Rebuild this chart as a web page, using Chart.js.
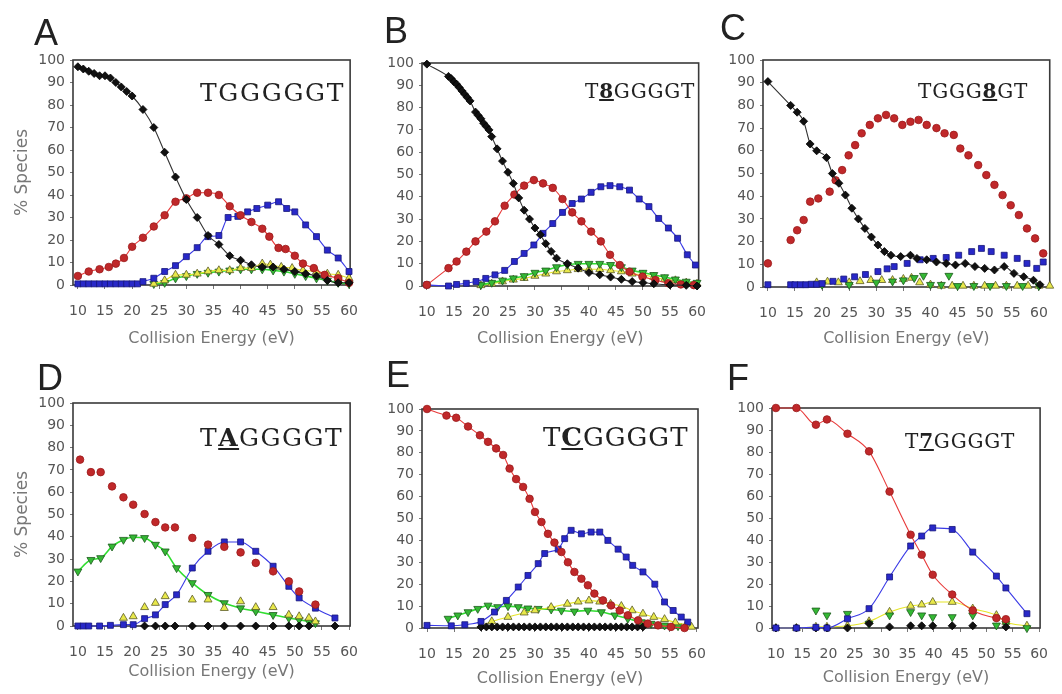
<!DOCTYPE html>
<html>
<head>
<meta charset="utf-8">
<script src="https://cdn.jsdelivr.net/npm/chart.js@4.4.1/dist/chart.umd.min.js"></script>
<style>
  body { margin: 0; background: #fff; }
  #page { position: relative; width: 1062px; height: 694px; overflow: hidden; }
  canvas { position: absolute; }
  .letter { position: absolute; font-family: "Liberation Sans", Arial, sans-serif; font-size: 36px; line-height: 1; color: #222; }
  .seq { position: absolute; font-family: "DejaVu Serif", serif; line-height: 1; color: #222; white-space: nowrap; }
  .seq b { text-decoration: underline; }
</style>
</head>
<body>
<div id="page">
  <canvas id="cA" width="372" height="310" style="left:0;top:40px"></canvas>
  <canvas id="cB" width="348" height="310" style="left:372px;top:40px"></canvas>
  <canvas id="cC" width="342" height="310" style="left:720px;top:40px"></canvas>
  <canvas id="cD" width="372" height="309" style="left:0;top:385px"></canvas>
  <canvas id="cE" width="348" height="309" style="left:372px;top:385px"></canvas>
  <canvas id="cF" width="342" height="309" style="left:720px;top:385px"></canvas>

  <div class="letter" style="left:34px;top:15px">A</div>
  <div class="letter" style="left:384px;top:13px">B</div>
  <div class="letter" style="left:720px;top:10px">C</div>
  <div class="letter" style="left:37px;top:360px">D</div>
  <div class="letter" style="left:386px;top:357px">E</div>
  <div class="letter" style="left:727px;top:360px">F</div>

  <div class="seq" style="left:200px;top:80px;font-size:25px;letter-spacing:1.7px">TGGGGGT</div>
  <div class="seq" style="left:585px;top:81px;font-size:20px;letter-spacing:0.8px">T<b>8</b>GGGGT</div>
  <div class="seq" style="left:918px;top:81px;font-size:20px;letter-spacing:0.8px">TGGG<b>8</b>GT</div>
  <div class="seq" style="left:200px;top:425px;font-size:25px;letter-spacing:1.5px">T<b>A</b>GGGGT</div>
  <div class="seq" style="left:543px;top:424px;font-size:26px;letter-spacing:1px">T<b>C</b>GGGGT</div>
  <div class="seq" style="left:905px;top:431px;font-size:20px;letter-spacing:0.8px">T<b>7</b>GGGGT</div>
</div>
<script>
// tick labels
const xTicks = [10, 15, 20, 25, 30, 35, 40, 45, 50, 55, 60];
const yTicks = [0, 10, 20, 30, 40, 50, 60, 70, 80, 90, 100];

// A  TGGGGGT
const aBlackX = [10,11,12,13,14,15,16,17,18,19,20,22,24,26,28,30,32,34,36,38,40,42,44,46,48,50,52,54,56,58,60];
const aBlackY = [97,96,95,94,93,93,92,90,88,86,84,78,70,59,48,38,30,22,18,13,11,9,8,8,7,6,5,4,2,1,1];
const aRedX = [10,12,14,15.7,17,18.5,20,22,24,26,28,30,32,34,36,38,40,42,44,45.3,47,48.3,50,51.5,53.5,55.5,58,60];
const aRedY = [4,6,7,8,9.5,12,17,21,26,31,37,38.5,41,41,40,35,31,28,25,21.5,16.5,16,13,9.5,7.5,4.5,3,1];
const aBlueX = [10,11,12,13,14,15,16,17,18,19,20,21,22,24,26,28,30,32,34,36,37.7,39.5,41.3,43,45,47,48.5,50,52,54,56,58,60];
const aBlueY = [0.5,0.5,0.5,0.5,0.5,0.5,0.5,0.5,0.5,0.5,0.5,0.5,1.5,3,6,8.6,12.6,16.6,21.5,22,30,30.5,32.5,34,35.5,37,34,32.5,26.7,21.5,15.5,12,6];
const aGreenX = [24,26,28,30,32,34,36,38,40,42,44,46,48,50,52,54,56,58,60];
const aGreenY = [0.5,1,3,4,5,5.5,6,6.5,7,7,7,6.5,6,5,4,3,2,1,0.5];
const aYellowX = [24,26,28,30,32,34,36,38,40,42,44,45.5,47.5,49.5,51.5,54,56,58,60];
const aYellowY = [0.5,2,4.5,4.5,5,6,6.5,6.5,7.5,7.5,9.5,9,8,7.5,6.5,6,5,4.5,3];

// B  T8GGGGT
const bBlackX = [10,14,14.5,15,15.5,16,16.5,17,17.5,18,19,19.5,20,20.5,21,21.5,22,23,24,25,26,27,28,29,30,31,32,33,34,36,38,40,42,44,46,48,50,52,55,58,60];
const bBlackY = [99.5,94,93,91.6,90.5,89,87.5,86,84.5,83,78,76.5,75,73,71.5,70,67,61.5,56,51,46,39.5,34,30,26,23,19,15.5,12.5,10,8,6,5,4,3,2,1.5,1,0.5,0.3,0];
const bRedX = [10,14,15.5,17.3,19,21,22.6,24.4,26.2,28,29.8,31.5,33.3,35.1,36.9,38.6,40.4,42.2,43.9,45.7,47.5,49.9,52.3,54.7,57,59.4];
const bRedY = [0.5,8,11,15.4,20,24.4,29,36,41,45,47.5,46,44,39,33,29,24.4,20,14,9.4,6.4,4.2,2.7,1.2,0.7,0.4];
const bBlueX = [10,14,15.5,17.3,19.1,20.9,22.6,24.4,26.2,28,29.8,31.5,33.3,35.1,36.9,38.6,40.4,42.2,43.9,45.7,47.5,49.3,51.1,52.9,54.7,56.4,58.2,59.7];
const bBlueY = [0.5,0,0.7,1.2,2,3.4,5,7,11,14.6,18.4,23.6,28,33,37,39,42,44.5,45,44.5,43,39,35.6,30.3,26,21.4,14,9.4];
const bGreenX = [20,22,24,26,28,30,32,34,36,38,40,42,44,46,48,50,52,54,56,58,60];
const bGreenY = [0.5,1.5,2.5,3.5,4.5,6,7,8.5,9.5,10,10,10,9.5,8.5,7,6,5,4,3,2,1.5];
const bYellowX = [20,22,24,26,28,30,32,34,36,38,40,42,44,46,48,50,52,54,56,58,60];
const bYellowY = [0.3,1,2,2.8,3.5,4.5,5.5,6.5,7,7.5,7.5,7.5,7,6.5,5.5,5,4,3,2.5,1.5,1];

// C  TGGG8GT
const cBlackX = [10,14.2,15.4,16.6,17.8,19,20.8,21.9,23.1,24.3,25.5,26.7,27.9,29.1,30.3,31.5,32.7,34.5,36.3,37.5,39.3,41.1,42.9,44.6,46.4,48.2,50,51.8,53.6,55.4,57.2,59,60.2];
const cBlackY = [90.5,80,77,73,63,60,57,50,45.7,40.5,34.7,30,25.8,22,18.5,15.6,14,13.4,14,12.6,12,11,10.4,9.7,10.4,9,8.2,7.5,9,6,4.5,3,1];
const cRedX = [10,14.2,15.4,16.6,17.8,19.3,21.4,22.5,23.7,24.9,26.1,27.3,28.8,30.3,31.8,33.3,34.8,36.3,37.8,39.3,41.1,42.6,44.3,45.5,47,48.8,50.3,51.8,53.3,54.8,56.3,57.8,59.3,60.8];
const cRedY = [10.4,20.7,25,29.5,37.6,39,42,47,51.5,58,62.5,67.7,71.4,74.3,75.8,74.3,71.4,72.8,73.6,71.4,70,67.7,67,61,58,53.7,49.3,45,40.5,36,31.7,25.8,21.4,14.8];
const cBlueX = [10,14.2,15,16,17,18,19,20,22,24,26,28,30.3,32,33.3,35.7,38.1,40.5,42.9,45.2,47.6,49.4,51.2,53.6,56,57.8,59.6,60.8];
const cBlueY = [1,1,1,1,1,1.2,1.2,1.5,2.5,3.5,4.5,5.5,6.8,8,9,10.4,12,12.6,13,14,15.6,17,15.6,14,12.6,10.4,8.2,11];
const cGreenX = [20,25,30,33,35,37,38.7,40,42,43.4,45,48,51,54,57,60];
const cGreenY = [1,1,2,2.5,3,4,5,1,1,5,0.5,0.5,0.5,0.5,0.5,0.5];
const cYellowX = [19,21,23,25,27,29,31,33,35,36.5,38,40,42,44,46,48,50,52,54,56,58,60,62];
const cYellowY = [2,2.3,2,2,2.5,3,3,3,3.5,4,2,1,0.5,0.5,0.5,0.5,0.5,0.5,0.5,0.5,0.5,0.5,0.5];

// D  TAGGGGT
const dRedX = [10.4,12.4,14.2,16.3,18.4,20.2,22.3,24.3,26.1,27.9,31.1,34,37,40,42.8,46,48.9,50.8,53.8];
const dRedY = [74.6,69,69,62.6,57.7,54.4,50.2,46.6,44.2,44.2,39.5,36.5,35.5,33,28.3,24.5,20,15.5,9.6];
const dGreenX = [10,12.4,14.2,16.3,18.4,20.2,22.3,24.3,26.1,28.2,31.1,34,37,40,42.8,46,48.9,50.8,52.6,53.8];
const dGreenY = [24.5,29.7,30.5,35.7,38.7,39.8,39.5,36.5,33.5,26,19.3,14,10.3,8,6.6,5,3.6,2.8,2,1.3];
const dBlueX = [10,11,12,14,16,18.4,20.2,22.3,24.3,26.1,28.2,31.1,34,37,40,42.8,46,48.9,50.8,53.8,57.4];
const dBlueY = [0,0,0,0,0.3,0.6,0.6,3.3,5,9.6,14,26,33.5,37.7,37.7,33.5,26.8,17.8,12.6,8,3.6];
const dYellowX = [18.4,20.2,22.3,24.3,26.1,31.1,34,37,40,42.8,46,48.9,50.8,52.6,53.8];
const dYellowY = [3.6,4.3,8.4,10.3,13.3,11.8,11.8,8,11,8.4,8.4,5,4.3,3.6,2];
const dBlackX = [22.3,24.3,26.1,27.9,31.1,34,37,40,42.8,46,48.9,50.8,52.6,57.4];
const dBlackY = [0,0,0,0,0,0,0,0,0,0,0,0,0,0];

// E  TCGGGGT
const eRedX = [10,13.6,15.4,17.6,19.8,21.3,22.8,24.1,25.3,26.5,27.8,29,30,31.2,32.4,33.6,34.9,36.1,37.3,38.6,39.8,41,42.6,44.1,45.7,47.2,49.1,50.9,52.8,55.2,57.7];
const eRedY = [100,97,96,92,88,85,82,79,72.8,68,64.4,59,53,48.4,43,39,34.7,30,25.6,22.5,19.5,15.7,12.6,10.3,8,5.8,3.5,2,1.2,0.5,0];
const eBlueX = [10,14.5,17,20,22.5,24.7,26.9,28.7,30.6,31.8,34.3,35.5,36.7,38.6,40.4,42,43.5,45.4,46.9,48.1,50,52.2,54,55.6,57.1,58.3];
const eBlueY = [1.2,1,1.5,3,7.3,12.6,18.7,24,29.4,34,36,40.8,44.6,43,43.8,43.8,40,36,32.4,28.6,25.6,20,11.9,8,5,2.7];
const eGreenX = [13.9,15.7,17.6,19.4,21.3,23.1,25,26.9,28.7,30.6,33,34.9,37.3,39.8,42.3,44.8,47.2,49.7,51.5,54,56.5];
const eGreenY = [4.3,5.8,7.3,8.8,10.3,9.6,10,9.6,9,8.8,8.5,8,7.6,8,7.3,5.8,4.3,2.7,2,1.2,0.9];
const eYellowX = [20,22,25,28,30,33,36,38,40,42,44,46,48,50,52,54,56,58,59];
const eYellowY = [1,3,5,7,8,9.5,11,12,12.5,12,11,10,8,6.5,5,4,2.5,1.5,0.5];
const eBlackX = [20,21,22,23,24,25,26,27,28,29,30,31,32,33,34,35,36,37,38,39,40,41,42,43,44,45,46,47,48,49,50];
const eBlackY = [0.5,0.5,0.5,0.5,0.5,0.5,0.5,0.5,0.5,0.5,0.5,0.5,0.5,0.5,0.5,0.5,0.5,0.5,0.5,0.5,0.5,0.5,0.5,0.5,0.5,0.5,0.5,0.5,0.5,0.5,0.5];

// F  T7GGGGT
const fRedX = [10,13.9,17.6,19.7,23.6,27.7,31.6,35.6,37.7,39.8,43.5,47.4,51.9,53.7];
const fRedY = [100,100,92.4,94.8,88.3,80.3,62,42.4,33.3,24.2,15.2,8,4.5,4];
const fBlueX = [10,13.9,17.6,19.7,23.6,27.7,31.6,35.6,37.7,39.8,43.5,47.4,51.9,53.7,57.7];
const fBlueY = [0,0,0.3,0,4.2,8.8,23.2,37.3,41.8,45.5,44.8,34.5,23.6,18.2,6.5];
const fGreenX = [17.6,19.7,23.6,27.7,31.6,35.6,37.7,39.8,43.5,47.4,51.9,53.7,57.7];
const fGreenY = [8,5.8,6.5,2,5.8,7.3,5.8,5,5,5.8,1.2,2,0];
const fYellowX = [10,13.9,17.6,19.7,23.6,27.7,31.6,35.6,37.7,39.8,43.5,47.4,51.9,53.7,57.7];
const fYellowY = [0,0,0.5,0.5,1,3,7.3,10,10.6,11.8,11.8,8.8,5.8,2.7,1];
const fBlackX = [10,13.9,17.6,19.7,23.6,27.7,31.6,35.6,37.7,39.8,43.5,47.4,53.7];
const fBlackY = [0,0,0,0,0,2,0.5,1,1,1,1,1,0.5];

// marker looks
const looks = {
  black:  { pointStyle: 'rectRot',  radius: 4,   fill: '#111',    edge: '#000',    line: '#333',    rot: 0 },
  red:    { pointStyle: 'circle',   radius: 3.8, fill: '#c0282a', edge: '#9a1a1a', line: '#e83a3a', rot: 0 },
  blue:   { pointStyle: 'rect',     radius: 4.2, fill: '#2828c8', edge: '#16167a', line: '#3a3ae6', rot: 0 },
  green:  { pointStyle: 'triangle', radius: 4.6, fill: '#34b834', edge: '#1c5a1c', line: '#30dd30', rot: 180 },
  yellow: { pointStyle: 'triangle', radius: 4.6, fill: '#e8e84a', edge: '#5a5a28', line: '#e6e628', rot: 0 }
};

function ser(xs, ys, kind, line) {
  const l = looks[kind];
  return {
    data: xs.map((x, i) => ({ x: x, y: ys[i] })),
    showLine: line,
    borderColor: l.line,
    borderWidth: kind === 'green' ? 1.6 : 1.1,
    cubicInterpolationMode: 'monotone',
    pointStyle: l.pointStyle,
    pointRadius: l.radius,
    pointRotation: l.rot,
    pointBackgroundColor: l.fill,
    pointBorderColor: l.edge,
    pointBorderWidth: 0.8,
    clip: false
  };
}

const frame = {
  id: 'frame',
  beforeDatasetsDraw(chart) {
    const a = chart.chartArea, ctx = chart.ctx;
    ctx.save();
    ctx.strokeStyle = '#3a3a3a';
    ctx.lineWidth = 1.6;
    ctx.strokeRect(a.left, a.top, a.right - a.left, a.bottom - a.top);
    ctx.restore();
  }
};

function panel(id, p) {
  return new Chart(document.getElementById(id), {
    type: 'scatter',
    data: { datasets: p.datasets },
    options: {
      responsive: false,
      animation: false,
      layout: { padding: { top: p.padTop, right: p.padRight, left: 0, bottom: 0 } },
      plugins: { legend: { display: false }, tooltip: { enabled: false } },
      scales: {
        x: {
          type: 'linear', min: p.xMin, max: p.xMax,
          afterBuildTicks: s => { s.ticks = xTicks.map(v => ({ value: v })); },
          afterFit: s => { s.height = p.xHeight; },
          grid: { drawOnChartArea: false, tickLength: 4, color: '#777' },
          border: { display: false },
          ticks: { padding: 14, color: '#555', font: { family: 'DejaVu Sans', size: 14 } },
          title: { display: true, text: 'Collision Energy (eV)', color: '#777',
                   font: { family: 'DejaVu Sans', size: 16 }, padding: { top: 0, bottom: p.titleBottom } }
        },
        y: {
          min: 0, max: 100,
          afterBuildTicks: s => { s.ticks = yTicks.map(v => ({ value: v })); },
          afterFit: s => { s.width = p.yWidth; },
          grid: { drawOnChartArea: false, tickLength: 3, color: '#777' },
          border: { display: false },
          ticks: { padding: 5, color: '#555', font: { family: 'DejaVu Sans', size: 14 } },
          title: { display: !!p.yTitle, text: '% Species', color: '#777',
                   font: { family: 'DejaVu Sans', size: 17 }, padding: { top: 12, bottom: 0 } }
        }
      }
    },
    plugins: [frame]
  });
}

panel('cA', { xMin: 9.1, xMax: 60.2, padTop: 20, padRight: 14, yWidth: 73, xHeight: 65, titleBottom: 2, yTitle: true,
  datasets: [ser(aBlackX, aBlackY, 'black', true), ser(aRedX, aRedY, 'red', true), ser(aBlueX, aBlueY, 'blue', true),
             ser(aYellowX, aYellowY, 'yellow', true), ser(aGreenX, aGreenY, 'green', true)] });

panel('cB', { xMin: 9.1, xMax: 60.3, padTop: 23, padRight: 10, yWidth: 50, xHeight: 64, titleBottom: 2,
  datasets: [ser(bBlackX, bBlackY, 'black', true), ser(bRedX, bRedY, 'red', true), ser(bBlueX, bBlueY, 'blue', true),
             ser(bGreenX, bGreenY, 'green', true), ser(bYellowX, bYellowY, 'yellow', true)] });

panel('cC', { xMin: 9.1, xMax: 62, padTop: 20, padRight: 4, yWidth: 43, xHeight: 63, titleBottom: 2,
  datasets: [ser(cBlackX, cBlackY, 'black', true), ser(cRedX, cRedY, 'red', false), ser(cBlueX, cBlueY, 'blue', false),
             ser(cGreenX, cGreenY, 'green', false), ser(cYellowX, cYellowY, 'yellow', false)] });

panel('cD', { xMin: 9.1, xMax: 60.2, padTop: 18, padRight: 14, yWidth: 73, xHeight: 68, titleBottom: 13, yTitle: true,
  datasets: [ser(dBlackX, dBlackY, 'black', false), ser(dRedX, dRedY, 'red', false), ser(dBlueX, dBlueY, 'blue', true),
             ser(dYellowX, dYellowY, 'yellow', false), ser(dGreenX, dGreenY, 'green', true)] });

panel('cE', { xMin: 9.07, xMax: 60.2, padTop: 24, padRight: 22, yWidth: 50, xHeight: 66, titleBottom: 6,
  datasets: [ser(eRedX, eRedY, 'red', true), ser(eBlueX, eBlueY, 'blue', true), ser(eBlackX, eBlackY, 'black', false),
             ser(eYellowX, eYellowY, 'yellow', true), ser(eGreenX, eGreenY, 'green', true)] });

panel('cF', { xMin: 9.26, xMax: 60.2, padTop: 23, padRight: 14, yWidth: 52, xHeight: 66, titleBottom: 7,
  datasets: [ser(fRedX, fRedY, 'red', true), ser(fBlueX, fBlueY, 'blue', true), ser(fBlackX, fBlackY, 'black', false),
             ser(fGreenX, fGreenY, 'green', false), ser(fYellowX, fYellowY, 'yellow', true)] });
</script>
</body>
</html>
